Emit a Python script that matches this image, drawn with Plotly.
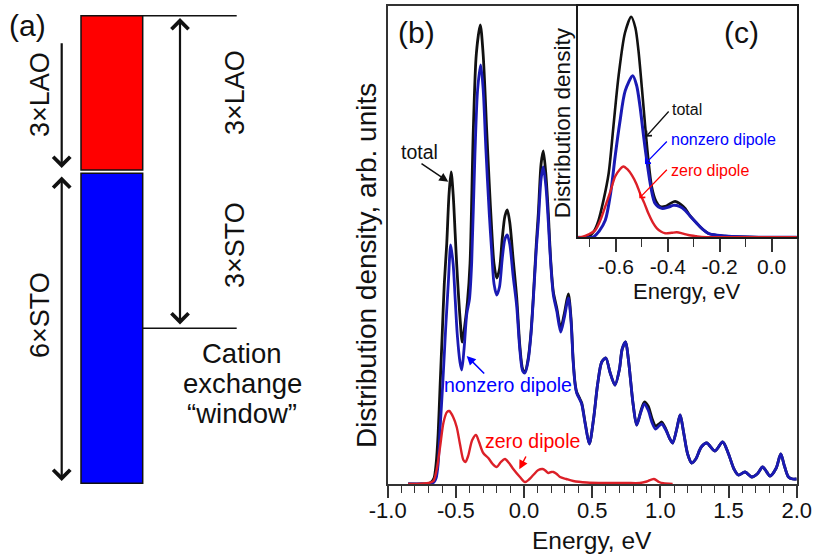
import plotly.graph_objects as go

# ---------------- data: panel (b), distribution density vs energy ----------------
energy_total = [-0.85, -0.75, -0.70, -0.68, -0.66, -0.645, -0.63, -0.616, -0.60, -0.585, -0.567, -0.55,
                -0.535, -0.52, -0.505, -0.494, -0.47, -0.453, -0.435, -0.415, -0.396, -0.372, -0.35,
                -0.321, -0.30, -0.274, -0.255, -0.237, -0.22, -0.20, -0.18, -0.16, -0.14, -0.123,
                -0.105, -0.08, -0.054, -0.03, -0.01, 0.007, 0.03, 0.05, 0.068, 0.09, 0.105, 0.125,
                0.141, 0.16, 0.178, 0.195, 0.215, 0.24, 0.269, 0.295, 0.325, 0.345, 0.36, 0.375,
                0.386, 0.41, 0.423, 0.45, 0.479, 0.51, 0.54, 0.57, 0.60, 0.63, 0.667, 0.70, 0.72,
                0.745, 0.765, 0.80, 0.826, 0.855, 0.882, 0.91, 0.94, 0.965, 0.99, 1.01, 1.04, 1.07,
                1.09, 1.12, 1.145, 1.17, 1.20, 1.23, 1.26, 1.30, 1.34, 1.40, 1.457, 1.50, 1.54,
                1.572, 1.621, 1.67, 1.71, 1.75, 1.78, 1.804, 1.85, 1.883, 1.91, 1.94, 1.97, 2.0]
density_total = [0, 0, 0.5, 2, 6, 20, 50, 97, 150, 200, 240, 290,
                 312, 290, 250, 220, 167, 142, 158, 182, 221, 354, 430,
                 459, 430, 354, 300, 254, 220, 206, 215, 245, 268, 274,
                 262, 225, 187, 137, 115, 112, 125, 150, 187, 240, 271, 320,
                 333, 310, 271, 225, 192, 176, 156, 170, 190, 165, 125, 100,
                 92, 85, 81, 60, 40, 65, 100, 122, 126, 112, 99, 115, 135,
                 142, 125, 80, 59, 72, 82, 78, 65, 58, 60, 62, 55, 45,
                 41, 55, 69, 52, 30, 21, 25, 37, 41, 33, 42, 30, 15,
                 9, 12, 7, 10, 17, 12, 8, 16, 30, 18, 7, 5, 5]

energy_nonzero = [-0.85, -0.75, -0.70, -0.68, -0.66, -0.645, -0.63, -0.616, -0.597, -0.575, -0.555,
                  -0.538, -0.52, -0.505, -0.49, -0.47, -0.457, -0.44, -0.42, -0.40, -0.384, -0.36,
                  -0.34, -0.318, -0.30, -0.28, -0.255, -0.237, -0.22, -0.20, -0.18, -0.16, -0.14,
                  -0.123, -0.105, -0.08, -0.054, -0.03, -0.01, 0.007, 0.03, 0.05, 0.068, 0.09, 0.105,
                  0.125, 0.141, 0.16, 0.178, 0.195, 0.215, 0.24, 0.269, 0.295, 0.325, 0.345, 0.36,
                  0.375, 0.386, 0.41, 0.423, 0.45, 0.479, 0.51, 0.54, 0.57, 0.60, 0.63, 0.667, 0.70,
                  0.72, 0.745, 0.765, 0.80, 0.826, 0.855, 0.882, 0.91, 0.94, 0.965, 0.99, 1.01, 1.04,
                  1.07, 1.09, 1.12, 1.145, 1.17, 1.20, 1.23, 1.26, 1.30, 1.34, 1.40, 1.457, 1.50,
                  1.54, 1.572, 1.621, 1.67, 1.71, 1.75, 1.78, 1.804, 1.85, 1.883, 1.91, 1.94, 1.97, 2.0]
density_nonzero = [0, 0, 0, 0.5, 2, 6, 20, 55, 98, 155, 202,
                   239, 220, 185, 150, 122, 114, 135, 170, 185, 221, 330,
                   395, 419, 395, 335, 270, 232, 200, 189, 197, 225, 245,
                   249, 240, 208, 178, 133, 113, 111, 123, 148, 184, 235, 262,
                   305, 317, 298, 262, 222, 189, 173, 152, 166, 186, 162, 123,
                   99, 91, 84, 80, 59, 40, 65, 100, 122, 126, 112, 99, 115,
                   135, 142, 125, 80, 59, 71, 80, 74, 61, 55, 58, 60, 54,
                   45, 41, 55, 69, 52, 30, 21, 25, 37, 41, 33, 42, 30,
                   15, 9, 12, 7, 10, 17, 12, 8, 16, 30, 18, 7, 5, 5]

energy_zero = [-0.85, -0.79, -0.70, -0.665, -0.64, -0.616, -0.59, -0.565, -0.548, -0.52, -0.494,
               -0.47, -0.445, -0.43, -0.41, -0.38, -0.352, -0.33, -0.299, -0.262, -0.23, -0.20,
               -0.17, -0.14, -0.11, -0.079, -0.03, 0.007, 0.04, 0.068, 0.105, 0.137, 0.16, 0.178,
               0.20, 0.215, 0.24, 0.264, 0.31, 0.361, 0.46, 0.60, 0.75, 0.85, 0.90, 0.953, 0.99,
               1.022, 1.09]
density_zero = [0, 0, 1, 3, 15, 37, 62, 72, 73, 67, 57,
                40, 24, 22, 28, 44, 49, 42, 31, 26, 20, 17,
                22, 25, 21, 15, 7, 2, 5, 9, 14, 15, 13, 11,
                12, 12, 10, 7, 5, 3, 1.5, 1, 1, 1, 2.5, 5, 2,
                0.7, 0]

# ---------------- data: panel (c), low-energy inset ----------------
inset_energy_total = [-0.75, -0.705, -0.685, -0.667, -0.648, -0.628, -0.61, -0.59, -0.565, -0.541,
                      -0.525, -0.513, -0.50, -0.487, -0.475, -0.462, -0.445, -0.43, -0.41, -0.39,
                      -0.372, -0.35, -0.333, -0.315, -0.295, -0.27, -0.244, -0.21, -0.18, -0.12,
                      -0.05, 0.1]
inset_density_total = [0, 0.5, 6, 17, 37, 64, 110, 161, 205, 221,
                       210, 187, 150, 111, 78, 51, 36, 31, 31, 34,
                       36, 33, 29, 22, 16, 9, 4, 2, 1.3, 0.5,
                       0, 0]

inset_energy_nonzero = [-0.75, -0.686, -0.665, -0.641, -0.62, -0.603, -0.585, -0.564, -0.535, -0.52,
                        -0.507, -0.494, -0.481, -0.465, -0.449, -0.423, -0.40, -0.378, -0.355, -0.333,
                        -0.31, -0.288, -0.265, -0.244, -0.21, -0.18, -0.12, -0.05, 0.1]
inset_density_nonzero = [0, 0.5, 6, 17, 45, 81, 115, 147, 162, 152,
                         131, 103, 77, 50, 34, 29, 30, 32, 31, 27,
                         20, 14, 8, 4, 2, 1.3, 0.5, 0, 0]

inset_energy_zero = [-0.75, -0.731, -0.705, -0.68, -0.66, -0.641, -0.62, -0.603, -0.585, -0.571,
                     -0.555, -0.538, -0.52, -0.507, -0.49, -0.475, -0.458, -0.442, -0.425, -0.41,
                     -0.385, -0.365, -0.345, -0.321, -0.29, -0.27, -0.2, 0.1]
inset_density_zero = [0, 0.5, 3, 7, 17, 31, 47, 61, 68, 71,
                      68, 62, 53, 44, 34, 24, 15, 9, 5.5, 4,
                      4.5, 5, 4, 2.3, 1, 0.3, 0, 0]

# tick labels
main_tickvals = [-1.0, -0.5, 0.0, 0.5, 1.0, 1.5, 2.0]
main_ticktext = ["-1.0", "-0.5", "0.0", "0.5", "1.0", "1.5", "2.0"]
inset_tickvals = [-0.6, -0.4, -0.2, 0.0]
inset_ticktext = ["-0.6", "-0.4", "-0.2", "0.0"]

# ---------------- layout helpers (pixel -> paper) ----------------
W, H = 816, 558
FONT = "Liberation Sans, Arial, Helvetica, sans-serif"


def fx(px):
    return px / W


def fy(py):
    return 1 - py / H


BLACK_LINE = "#111111"
BLUE_LINE = "#1a1ab4"
RED_LINE = "#dc2028"

fig = go.Figure()

# main panel (b)
fig.add_trace(go.Scatter(x=energy_total, y=density_total, mode="lines",
                         line=dict(color=BLACK_LINE, width=2.8, shape="spline", smoothing=0.8),
                         xaxis="x", yaxis="y", name="total"))
fig.add_trace(go.Scatter(x=energy_nonzero, y=density_nonzero, mode="lines",
                         line=dict(color=BLUE_LINE, width=2.8, shape="spline", smoothing=0.8),
                         xaxis="x", yaxis="y", name="nonzero dipole"))
fig.add_trace(go.Scatter(x=energy_zero, y=density_zero, mode="lines",
                         line=dict(color=RED_LINE, width=2.4, shape="spline", smoothing=0.8),
                         xaxis="x", yaxis="y", name="zero dipole"))

# inset panel (c)
fig.add_trace(go.Scatter(x=inset_energy_total, y=inset_density_total, mode="lines",
                         line=dict(color=BLACK_LINE, width=2.6, shape="spline", smoothing=0.8),
                         xaxis="x2", yaxis="y2", name="total"))
fig.add_trace(go.Scatter(x=inset_energy_nonzero, y=inset_density_nonzero, mode="lines",
                         line=dict(color=BLUE_LINE, width=3.0, shape="spline", smoothing=0.8),
                         xaxis="x2", yaxis="y2", name="nonzero dipole"))
fig.add_trace(go.Scatter(x=inset_energy_zero, y=inset_density_zero, mode="lines",
                         line=dict(color=RED_LINE, width=2.4, shape="spline", smoothing=0.8),
                         xaxis="x2", yaxis="y2", name="zero dipole"))

AX_COLOR = "#333333"
main_x = dict(domain=[fx(387.7), fx(796.7)], range=[-1.0, 2.0], anchor="y", automargin=False,
              showline=True, linecolor=AX_COLOR, linewidth=1.6, mirror=True,
              ticks="outside", ticklen=12, tickwidth=1.5, tickcolor=AX_COLOR,
              tickvals=main_tickvals, ticktext=main_ticktext, ticklabelstandoff=-6,
              tickfont=dict(family=FONT, size=22, color="#111"),
              minor=dict(dtick=0.1, tick0=0, ticks="outside", ticklen=7, tickwidth=1.3,
                         tickcolor=AX_COLOR),
              showgrid=False, zeroline=False, fixedrange=True)
main_y = dict(domain=[fy(484), fy(6)], range=[0, 478], anchor="x", automargin=False,
              showline=True, linecolor=AX_COLOR, linewidth=1.6, mirror=True,
              showticklabels=False, ticks="", showgrid=False, zeroline=False, fixedrange=True)
inset_x = dict(domain=[fx(578.3), fx(796.7)], range=[-0.745, 0.097], anchor="y2", automargin=False,
               showline=True, linecolor="#1a1a1a", linewidth=2, mirror=True,
               ticks="outside", ticklen=13, tickwidth=1.5, tickcolor=AX_COLOR,
               tickvals=inset_tickvals, ticktext=inset_ticktext, ticklabelstandoff=-4,
               tickfont=dict(family=FONT, size=21, color="#111"),
               minor=dict(dtick=0.2, tick0=-0.7, ticks="outside", ticklen=8, tickwidth=1.3,
                          tickcolor=AX_COLOR),
               showgrid=False, zeroline=False, fixedrange=True)
inset_y = dict(domain=[fy(237.3), fy(6)], range=[0, 231.8], anchor="x2", automargin=False,
               showline=True, linecolor="#1a1a1a", linewidth=2, mirror=True,
               showticklabels=False, ticks="", showgrid=False, zeroline=False, fixedrange=True)

# ---------------- panel (a): layer stack schematic ----------------
shapes = [
    dict(type="rect", xref="paper", yref="paper", x0=fx(81), x1=fx(142.7), y0=fy(170), y1=fy(15.7),
         fillcolor="#ff0000", line=dict(color="#111", width=1.5), layer="above"),
    dict(type="rect", xref="paper", yref="paper", x0=fx(81), x1=fx(142.7), y0=fy(483.3), y1=fy(173.3),
         fillcolor="#0000ff", line=dict(color="#111", width=1.5), layer="above"),
    dict(type="line", xref="paper", yref="paper", x0=fx(142.7), x1=fx(236.7), y0=fy(15.7), y1=fy(15.7),
         line=dict(color="#111", width=1.6)),
    dict(type="line", xref="paper", yref="paper", x0=fx(142.7), x1=fx(236.7), y0=fy(328.3), y1=fy(328.3),
         line=dict(color="#111", width=1.6)),
]


def arrow(tip, tail, color, width, head, size, side="end"):
    return dict(x=fx(tip[0]), y=fy(tip[1]), xref="paper", yref="paper",
                ax=tail[0] - tip[0], ay=tail[1] - tip[1], axref="pixel", ayref="pixel",
                text="", showarrow=True, arrowhead=head, startarrowhead=head,
                arrowsize=size, startarrowsize=size, arrowwidth=width,
                arrowcolor=color, arrowside=side, standoff=0, startstandoff=0)


def label(text, px, py, size, color="#111", angle=0, xanchor="center"):
    return dict(text=text, x=fx(px), y=fy(py), xref="paper", yref="paper",
                showarrow=False, textangle=angle, xanchor=xanchor, yanchor="middle",
                font=dict(family=FONT, size=size, color=color))


annotations = [
    # panel (a)
    label("(a)", 27, 25, 30),
    label("3×LAO", 40, 95, 27, angle=-90),
    label("6×STO", 40, 315, 27, angle=-90),
    label("3×LAO", 235, 92, 27, angle=-90),
    label("3×STO", 235, 245, 27, angle=-90),
    label("Cation", 242, 353, 27.5),
    label("exchange", 242, 383, 27.5),
    label("“window”", 242, 413, 27.5),
    arrow((61.7, 168), (61.7, 41.7), "#111", 2.2, 4, 1.5),
    arrow((61.7, 481), (61.7, 175), "#111", 2.2, 4, 1.5, side="end+start"),
    arrow((180, 18), (180, 326), "#111", 2.2, 4, 1.5, side="end+start"),

    # panel (b)
    label("(b)", 416, 33, 30),
    label("Distribution density, arb. units", 367, 266, 28, angle=-90),
    label("Energy, eV", 592, 540, 24.5),
    label("total", 420, 152, 19.5),
    arrow((448.3, 181.7), (420, 162.7), "#111", 1.5, 2, 1.2),
    label("nonzero dipole", 508, 385, 19.5, color="#0000ff"),
    arrow((466.7, 356), (485.7, 375), "#0000ff", 1.5, 2, 1.2),
    label("zero dipole", 532, 441, 19.5, color="#ff0000"),
    arrow((519.3, 469.3), (526.7, 455), "#ff0000", 1.5, 2, 1.2),

    # panel (c)
    label("(c)", 741, 33, 30),
    label("Distribution density", 562.7, 122.5, 22.5, angle=-90),
    label("Energy, eV", 687, 291, 22),
    label("total", 670, 110, 16, xanchor="left"),
    arrow((646, 136.7), (670, 110), "#111", 1.3, 4, 1.1),
    label("nonzero dipole", 669, 140, 16, color="#0000ff", xanchor="left"),
    arrow((645, 164), (668.3, 140), "#0000ff", 1.3, 4, 1.1),
    label("zero dipole", 669, 170, 16, color="#ff0000", xanchor="left"),
    arrow((639.3, 198.3), (668.3, 168.3), "#ff0000", 1.3, 4, 1.1),
]

fig.update_layout(
    width=W, height=H, margin=dict(l=0, r=0, t=0, b=0, autoexpand=False),
    paper_bgcolor="white", plot_bgcolor="white",
    showlegend=False,
    xaxis=main_x, yaxis=main_y, xaxis2=inset_x, yaxis2=inset_y,
    shapes=shapes, annotations=annotations,
    font=dict(family=FONT, color="#111"),
)

fig.write_html("out.html")
